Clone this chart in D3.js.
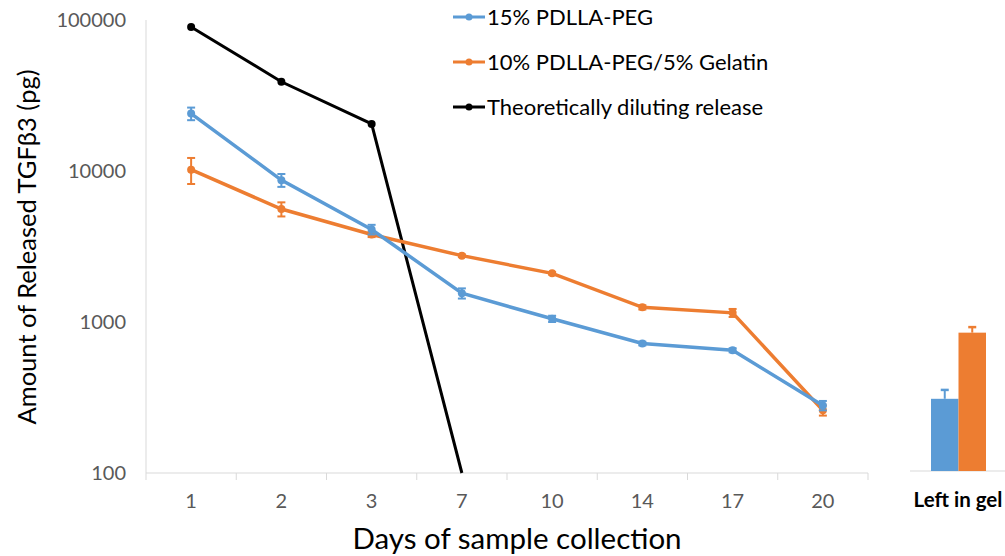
<!DOCTYPE html>
<html>
<head>
<meta charset="utf-8">
<script src="https://cdn.jsdelivr.net/npm/d3@7"></script>
<style>
  body { margin: 0; background: #fff; }
  svg text { font-family: Lato, "Open Sans", sans-serif; }
</style>
</head>
<body>
<div id="chart"></div>
<script>
// days on the x axis (categorical)
const days = ["1", "2", "3", "7", "10", "14", "17", "20"];

// released TGFb3 (pg)
const pdllaPeg = [24000, 8700, 4100, 1550, 1050, 720, 650, 280];
const pdllaPegErr = [2300, 850, 300, 120, 50, 20, 20, 20];
const pdllaGel = [10200, 5600, 3800, 2750, 2100, 1250, 1150, 260];
const pdllaGelErr = [2000, 600, 150, 50, 40, 40, 70, 20];
const theoretical = [90000, 39000, 20500, 100];

// amount left in gel at the end
const leftInGel = [310, 850];
const leftInGelErr = [45, 75];

const yTicks = [100, 1000, 10000, 100000];
const seriesNames = ["15% PDLLA-PEG", "10% PDLLA-PEG/5% Gelatin", "Theoretically diluting release"];
const colors = ["#5b9bd5", "#ed7d31", "#000000"];

const W = 1005, H = 556;

const svg = d3.select("#chart").append("svg")
    .attr("width", W)
    .attr("height", H);

let x = d3.scaleBand().domain(days).range([146, 868]).padding(0);
let y = d3.scaleLog().domain([100, 100000]).range([473, 20]);

// left axis line + labels
svg.append("line")
    .attr("x1", 146).attr("x2", 146)
    .attr("y1", y(100000)).attr("y2", y(100))
    .attr("stroke", "#d9d9d9").attr("stroke-width", 1);

svg.selectAll(".ylab")
    .data(yTicks)
    .enter().append("text")
    .attr("class", "ylab")
    .attr("x", 126)
    .attr("y", d => y(d))
    .attr("dy", "0.35em")
    .attr("text-anchor", "end")
    .attr("font-size", 20)
    .attr("fill", "#595959")
    .text(d => d);

// bottom axis
let xAxis = svg.append("g")
    .attr("transform", "translate(0," + y(100) + ")");

xAxis.append("line")
    .attr("x1", 146).attr("x2", 868)
    .attr("stroke", "#d9d9d9");

xAxis.selectAll(".tick")
    .data(days.concat(["end"]))
    .enter().append("line")
    .attr("x1", (d, i) => i < days.length ? x(d) : x.range()[1])
    .attr("x2", (d, i) => i < days.length ? x(d) : x.range()[1])
    .attr("y1", 0).attr("y2", 7)
    .attr("stroke", "#d9d9d9");

xAxis.selectAll(".xlab")
    .data(days)
    .enter().append("text")
    .attr("x", d => x(d) + x.bandwidth() / 2)
    .attr("y", 35)
    .attr("text-anchor", "middle")
    .attr("font-size", 20)
    .attr("fill", "#595959")
    .text(d => d);

// titles
svg.append("text")
    .attr("transform", "translate(36,247) rotate(-90)")
    .attr("text-anchor", "middle")
    .attr("font-size", 25.5)
    .attr("fill", "#000")
    .text("Amount of Released TGFβ3 (pg)");

svg.append("text")
    .attr("x", 517)
    .attr("y", 549)
    .attr("text-anchor", "middle")
    .attr("font-size", 29.5)
    .attr("fill", "#000")
    .text("Days of sample collection");

// lines
const cx = i => x(days[i]) + x.bandwidth() / 2;
const line = d3.line().x((d, i) => cx(i)).y(d => y(d));

const series = [
    { vals: pdllaPeg, err: pdllaPegErr, color: colors[0], w: 3.5 },
    { vals: pdllaGel, err: pdllaGelErr, color: colors[1], w: 3.5 },
    { vals: theoretical, err: null, color: colors[2], w: 3 }
];

series.slice().reverse().forEach(s => {
    let g = svg.append("g");
    g.append("path")
        .attr("d", line(s.vals))
        .attr("fill", "none")
        .attr("stroke", s.color)
        .attr("stroke-width", s.w);

    if (s.err) {
        s.vals.forEach((v, i) => {
            let top = y(v + s.err[i]), bot = y(v - s.err[i]);
            g.append("line").attr("x1", cx(i)).attr("x2", cx(i))
                .attr("y1", top).attr("y2", bot)
                .attr("stroke", s.color).attr("stroke-width", 2);
            [top, bot].forEach(yy => {
                g.append("line").attr("x1", cx(i) - 4).attr("x2", cx(i) + 4)
                    .attr("y1", yy).attr("y2", yy)
                    .attr("stroke", s.color).attr("stroke-width", 2);
            });
        });
    }

    g.selectAll("circle")
        .data(s.vals.slice(0, s.err ? s.vals.length : 3))
        .enter().append("circle")
        .attr("cx", (d, i) => cx(i))
        .attr("cy", d => y(d))
        .attr("r", 4)
        .attr("fill", s.color);
});

// legend
const legend = svg.append("g");
seriesNames.forEach((name, i) => {
    let ly = 17 + i * 45;
    legend.append("line")
        .attr("x1", 453).attr("x2", 485)
        .attr("y1", ly).attr("y2", ly)
        .attr("stroke", colors[i]).attr("stroke-width", 3);
    legend.append("circle")
        .attr("cx", 469).attr("cy", ly).attr("r", 3.5)
        .attr("fill", colors[i]);
    legend.append("text")
        .attr("x", 487).attr("y", ly)
        .attr("dy", "0.35em")
        .attr("font-size", 22)
        .attr("fill", "#000")
        .text(name);
});

// inset bars: left in gel
let xb = d3.scaleBand().domain([0, 1]).range([931, 986]).padding(0);
let inset = svg.append("g");

inset.append("line")
    .attr("x1", 910).attr("x2", 1005)
    .attr("y1", 471).attr("y2", 471)
    .attr("stroke", "#d9d9d9");

inset.selectAll("rect")
    .data(leftInGel)
    .enter().append("rect")
    .attr("x", (d, i) => xb(i))
    .attr("width", xb.bandwidth())
    .attr("y", d => y(d))
    .attr("height", d => 471 - y(d))
    .attr("fill", (d, i) => colors[i]);

leftInGel.forEach((v, i) => {
    let mx = xb(i) + xb.bandwidth() / 2;
    inset.append("line").attr("x1", mx).attr("x2", mx)
        .attr("y1", y(v + leftInGelErr[i])).attr("y2", y(v))
        .attr("stroke", colors[i]).attr("stroke-width", 2);
    inset.append("line").attr("x1", mx - 4).attr("x2", mx + 4)
        .attr("y1", y(v + leftInGelErr[i])).attr("y2", y(v + leftInGelErr[i]))
        .attr("stroke", colors[i]).attr("stroke-width", 2.5);
});

inset.append("text")
    .attr("x", 958)
    .attr("y", 507)
    .attr("text-anchor", "middle")
    .attr("font-size", 20.5)
    .attr("font-weight", "bold")
    .attr("fill", "#000")
    .text("Left in gel");
</script>
</body>
</html>
